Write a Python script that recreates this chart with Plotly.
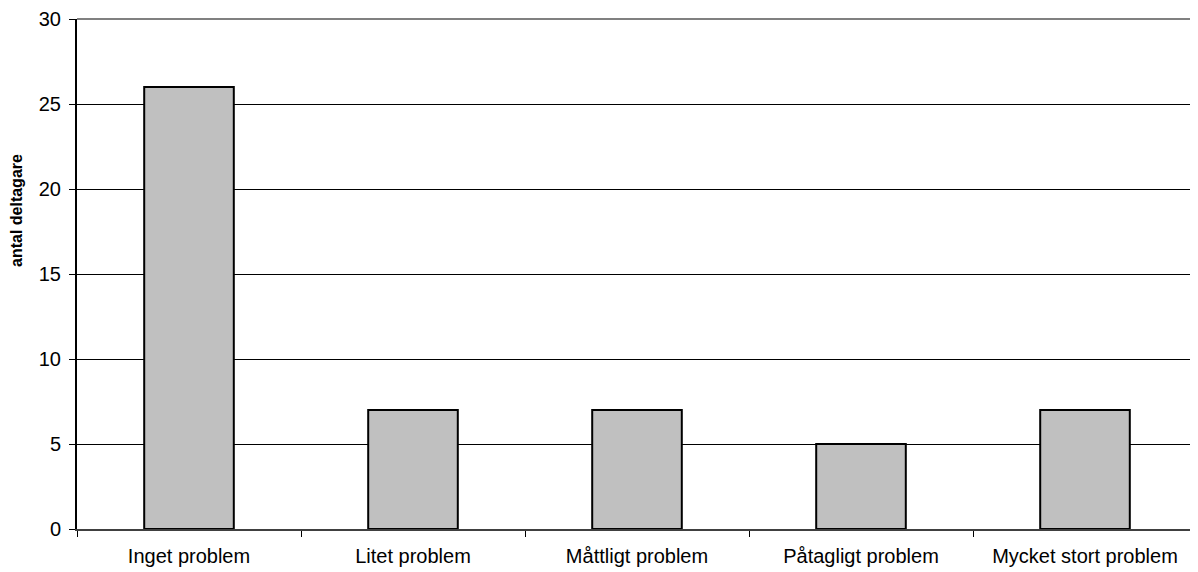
import plotly.graph_objects as go

categories = ["Inget problem", "Litet problem", "Måttligt problem", "Påtagligt problem", "Mycket stort problem"]
values = [26, 7, 7, 5, 7]
y_ticks = [0, 5, 10, 15, 20, 25, 30]
y_title = "antal deltagare"

fig = go.Figure()
fig.add_trace(go.Bar(
    x=categories, y=values,
    marker=dict(color="#C0C0C0", line=dict(color="black", width=2)),
    width=0.4,
))

fig.update_layout(
    width=1190, height=564,
    margin=dict(l=69, r=1, t=11, b=43),
    paper_bgcolor="white", plot_bgcolor="white",
    font=dict(family="Liberation Sans, Arial, sans-serif", color="black", size=20),
    showlegend=False,
    xaxis=dict(
        tickson="boundaries", ticks="outside", ticklen=6, tickcolor="black",
        showline=True, linecolor="#404040", linewidth=2,
        showgrid=False, tickfont=dict(size=20), automargin=False,
        ticklabelstandoff=8,
    ),
    yaxis=dict(
        range=[0, 30], tickvals=y_ticks, ticks="outside", ticklen=6, tickcolor="black",
        showline=True, linecolor="black", linewidth=2,
        showgrid=True, gridcolor="black", gridwidth=1,
        zeroline=False, tickfont=dict(size=20), automargin=False,
        ticklabelstandoff=4,
    ),
    annotations=[
        dict(text="<b>" + y_title + "</b>", xref="paper", yref="paper",
             x=0, y=0.6235, xshift=-61, xanchor="center", yanchor="middle",
             textangle=-90, showarrow=False, font=dict(size=16)),
    ],
    shapes=[
        dict(type="line", xref="paper", yref="paper", x0=0, x1=1, y0=1, y1=1,
             line=dict(color="#808080", width=2)),
        dict(type="line", xref="paper", yref="paper", x0=1, x1=1, y0=0, y1=1,
             line=dict(color="#a0a0a0", width=1.5)),
    ],
)

fig.write_html("out.html", post_script="document.body.style.overflow='hidden';")
